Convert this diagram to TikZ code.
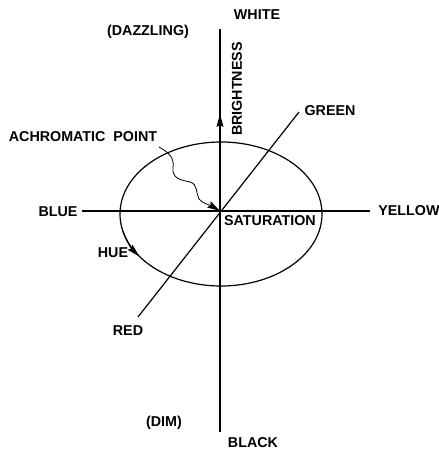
\documentclass[tikz,border=0pt]{standalone}
\usepackage{fontspec}
\setmainfont{Liberation Sans}
\usetikzlibrary{arrows.meta,calc}

\tikzset{
  lbl/.style={font=\fontsize{14.3}{16}\selectfont\bfseries, inner sep=1pt},
  axis/.style={line width=1.2pt},
  tipped/.style={axis, -{Stealth[length=13pt,width=7pt,inset=2pt]}}
}

\begin{document}
\begin{tikzpicture}[x=1pt,y=-1pt]
  \useasboundingbox (0,0) rectangle (439,450);
  % origin and axis ends
  \coordinate (O) at (220,211);
  \coordinate (C) at (221,214);
  \coordinate (top) at (220,29);
  \coordinate (bot) at (220,432);
  \coordinate (left) at (82,211);
  \coordinate (right) at (370,211);
  \coordinate (redend) at (138,317);
  \coordinate (greenend) at (299,112);
  \coordinate (brighttip) at (220,114);
  % labels
  \node[lbl] (white) at (257,15) {WHITE};
  \node[lbl] (dazzling) at (148,32) {(DAZZLING)};
  \node[lbl, rotate=90] (bright) at (237,89) {BRIGHTNESS};
  \node[lbl] (green) at (330,111) {GREEN};
  \node[lbl] (achro) at (83,137) {ACHROMATIC\ \ POINT};
  \node[lbl] (blue) at (58,212) {BLUE};
  \node[lbl] (yellow) at (409,211) {YELLOW};
  \node[lbl] (satur) at (270,221) {SATURATION};
  \node[lbl] (hue) at (113,253) {HUE};
  \node[lbl] (red) at (128,331) {RED};
  \node[lbl] (dim) at (164,423) {(DIM)};
  \node[lbl] (black) at (253,443) {BLACK};
  % axes
  \draw[axis] (top) -- (bot);
  \draw[axis] (left) -- (right);
  \draw[axis] (redend) -- (greenend);
  \draw[tipped] (O) -- (brighttip);
  % hue circle
  \draw[axis] (C) ellipse[x radius=101, y radius=72];
  \draw[tipped] ($(C)+(166:101 and 72)$) arc[start angle=166, end angle=144, x radius=101, y radius=72];
  % pointer to the achromatic point
  \draw[tipped, line width=0.8pt] (159,147) .. controls (172,154) and (174,160) .. (173,168)
    .. controls (172,178) and (180,180) .. (190,182)
    .. controls (198,184) and (196,194) .. (199,199)
    .. controls (203,204) and (210,205) .. (O);
\end{tikzpicture}
\end{document}
